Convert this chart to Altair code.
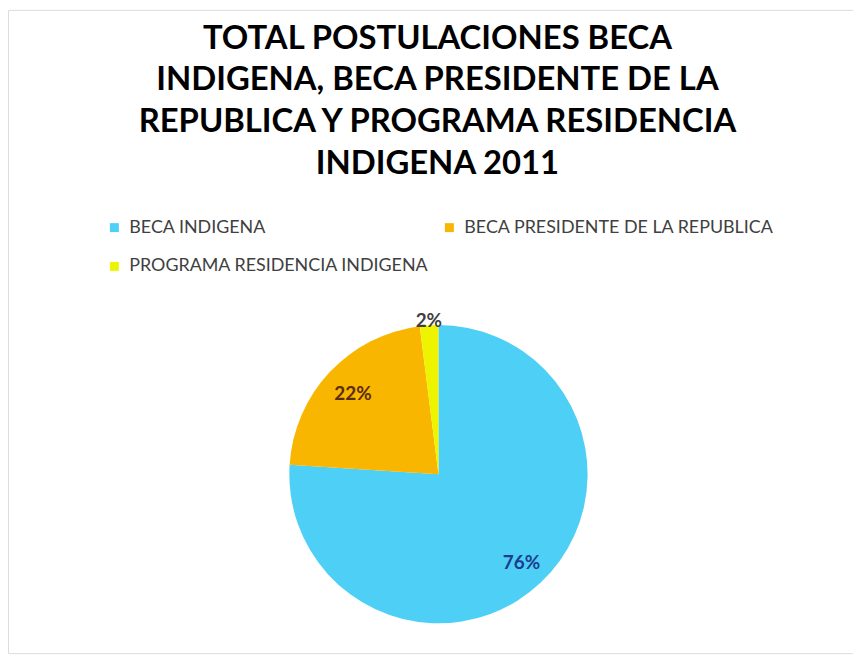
import altair as alt
import pandas as pd

categories = ["BECA INDIGENA", "BECA PRESIDENTE DE LA REPUBLICA", "PROGRAMA RESIDENCIA INDIGENA"]
values = [76, 22, 2]
labels = ["76%", "22%", "2%"]
order_idx = [0, 1, 2]

colors = ["#4ECFF6", "#F8B600", "#EEF400"]
label_colors = ["#1C3C8E", "#5A2C10", "#3F3F3F"]

title_lines = [
    "TOTAL POSTULACIONES BECA",
    "INDIGENA, BECA PRESIDENTE DE LA",
    "REPUBLICA Y PROGRAMA RESIDENCIA",
    "INDIGENA 2011",
]

df = pd.DataFrame({"cat": categories, "value": values, "label": labels, "idx": order_idx})

W, H = 850, 647
CX, CY, R = 433, 467, 150
TITLE_Y = 29

base = alt.Chart(df)

pie = base.mark_arc(radius=R).encode(
    theta=alt.Theta("value:Q", stack=True),
    color=alt.Color(
        "cat:N",
        scale=alt.Scale(domain=categories, range=colors),
        sort=categories,
        legend=alt.Legend(
            title=None,
            orient="none",
            legendX=98,
            legendY=210,
            direction="horizontal",
            columns=2,
            columnPadding=11,
            rowPadding=21,
            symbolType="square",
            symbolSize=81,
            symbolStrokeWidth=0,
            symbolOffset=0,
            labelOffset=6,
            labelFont="Lato",
            labelFontSize=18,
            labelColor="#404040",
            labelLimit=400,
        ),
    ),
    order=alt.Order("idx:Q"),
    x=alt.value(CX),
    y=alt.value(CY),
)

def label_layer(i, radius):
    return (
        base.transform_window(cum="sum(value)", sort=[alt.SortField("idx")])
        .transform_calculate(mid="datum.cum - datum.value / 2")
        .transform_filter(alt.datum.idx == order_idx[i])
        .mark_text(radius=radius, font="Lato", fontSize=19, fontWeight="bold", color=label_colors[i])
        .encode(
            theta=alt.Theta("mid:Q", scale=alt.Scale(domain=[0, 100], range=[0, 6.283185307]), stack=None),
            text="label:N",
            x=alt.value(CX),
            y=alt.value(CY),
        )
    )

title = alt.Chart(pd.DataFrame({"k": [0]})).mark_text(
    font="Lato", fontSize=33, fontWeight="bold", color="#000000",
    lineHeight=42, baseline="middle", align="center",
).encode(
    text=alt.value(title_lines),
    x=alt.value(CX - 1),
    y=alt.value(TITLE_Y),
)

chart = (
    alt.layer(pie, label_layer(0, 122), label_layer(1, 118), label_layer(2, 154), title)
    .resolve_scale(theta="independent")
    .properties(width=W, height=H, padding=0)
    .configure_view(stroke="#a3b3ae", strokeWidth=2)
    .configure(background="white")
)

chart.save("out.html", embed_options={"renderer": "svg", "actions": False})
